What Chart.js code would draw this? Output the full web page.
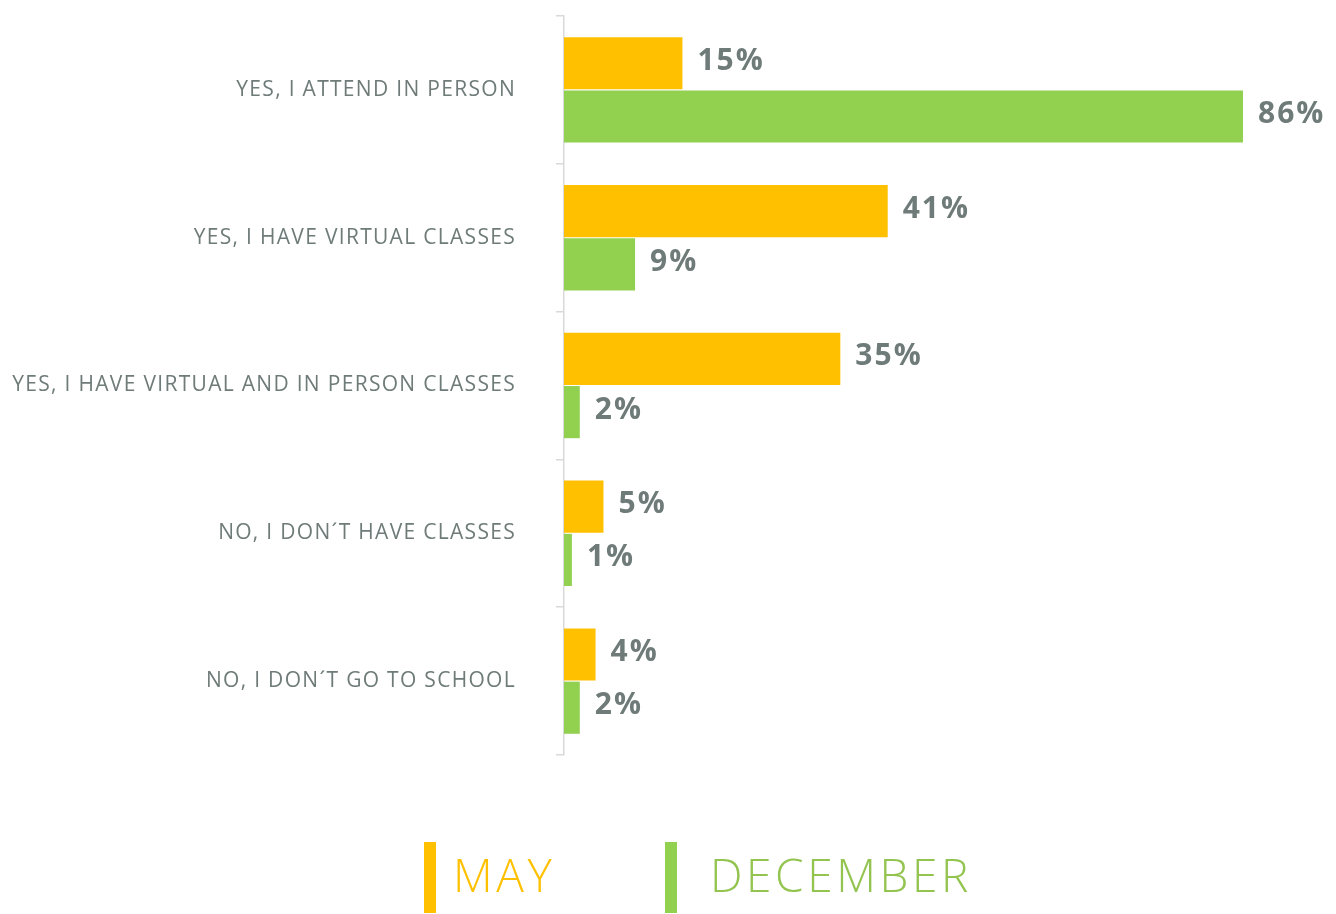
<!DOCTYPE html>
<html>
<head>
<meta charset="utf-8">
<script src="https://cdn.jsdelivr.net/npm/chart.js@4.4.1/dist/chart.umd.min.js"></script>
<style>
  html, body { margin: 0; padding: 0; background: #ffffff; }
  #wrap { width: 1336px; height: 914px; position: relative; }
</style>
</head>
<body>
<div id="wrap"><canvas id="c" width="1336" height="914"></canvas></div>
<script>
const categories = [
  "YES, I ATTEND IN PERSON",
  "YES, I HAVE VIRTUAL CLASSES",
  "YES, I HAVE VIRTUAL AND IN PERSON CLASSES",
  "NO, I DON\u00B4T HAVE CLASSES",
  "NO, I DON\u00B4T GO TO SCHOOL"
];
const seriesNames = ["MAY", "DECEMBER"];
const mayValues = [15, 41, 35, 5, 4];
const decemberValues = [86, 9, 2, 1, 2];
const seriesColors = ["#FFC000", "#92D050"];
const legendTextColors = ["#FFC000", "#92C44F"];

const labelColor = "#6E7B78";
const FONT = "'Open Sans', 'Noto Sans', sans-serif";

const spacing = {
  id: 'spacing',
  beforeDraw(chart) {
    chart.ctx.letterSpacing = '1.3px';
  }
};

const valueLabels = {
  id: 'valueLabels',
  afterDatasetsDraw(chart) {
    const ctx = chart.ctx;
    ctx.save();
    ctx.letterSpacing = '2px';
    ctx.font = "bold 30px " + FONT;
    ctx.fillStyle = labelColor;
    ctx.textAlign = 'left';
    ctx.textBaseline = 'middle';
    chart.data.datasets.forEach((ds, di) => {
      const meta = chart.getDatasetMeta(di);
      meta.data.forEach((bar, i) => {
        ctx.fillText(ds.data[i] + '%', bar.x + 15, bar.y - 2);
      });
    });
    ctx.restore();
  }
};

const customLegend = {
  id: 'customLegend',
  afterDraw(chart) {
    const ctx = chart.ctx;
    ctx.save();
    ctx.letterSpacing = '3.6px';
    ctx.font = "300 46px " + FONT;
    ctx.textBaseline = 'alphabetic';
    const boxX = [424, 665];
    const textGap = [17, 33];
    const top = 842, h = 71;
    chart.data.datasets.forEach((ds, di) => {
      ctx.fillStyle = ds.backgroundColor;
      ctx.fillRect(boxX[di], top, 12, h);
      ctx.fillStyle = legendTextColors[di];
      ctx.fillText(ds.label, boxX[di] + 12 + textGap[di], 892);
    });
    ctx.restore();
  }
};

new Chart(document.getElementById('c'), {
  type: 'bar',
  data: {
    labels: categories,
    datasets: [
      { label: seriesNames[0], data: mayValues, backgroundColor: seriesColors[0],
        categoryPercentage: 0.72, barPercentage: 0.98 },
      { label: seriesNames[1], data: decemberValues, backgroundColor: seriesColors[1],
        categoryPercentage: 0.72, barPercentage: 0.98 }
    ]
  },
  options: {
    indexAxis: 'y',
    responsive: false,
    animation: false,
    layout: { padding: { top: 16, right: 93, bottom: 159, left: 0 } },
    plugins: {
      legend: { display: false },
      tooltip: { enabled: false }
    },
    scales: {
      x: { display: false, min: 0, max: 86 },
      y: {
        afterFit(scale) { scale.width = 564; scale.paddingTop = 0; scale.paddingBottom = 0; },
        grid: { display: true, drawOnChartArea: false, tickLength: 8, offset: true, color: '#D9D9D9', lineWidth: 1.5 },
        border: { display: true, color: '#D9D9D9', width: 1.5 },
        ticks: { color: labelColor, font: { family: FONT, size: 21 }, padding: 40 }
      }
    }
  },
  plugins: [spacing, valueLabels, customLegend]
});
</script>
</body>
</html>
